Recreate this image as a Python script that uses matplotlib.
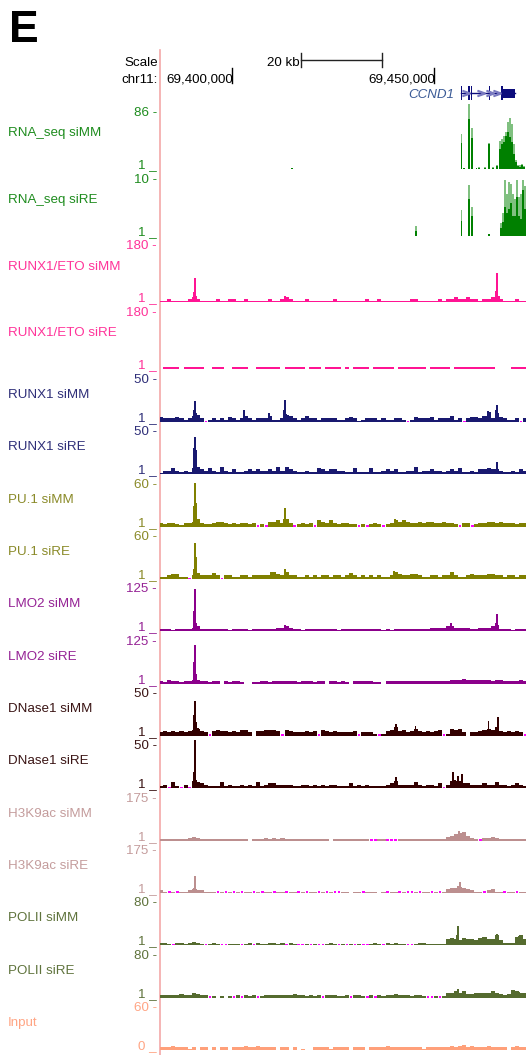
import numpy as np
import matplotlib
matplotlib.use("Agg")
import matplotlib.pyplot as plt

plt.rcParams['font.family'] = ['Liberation Sans', 'DejaVu Sans']

W, H = 526, 1055
X0 = 160                      # left edge of the data area (px)
VIEW = (69382.18, 69472.77)   # chr11 window shown, in kb
BIN_START = 69382             # first 1 kb bin of the coverage strings

# ---- ruler / gene (kb on chr11) ----
ruler_ticks = [69400, 69450]
ruler_labels = ["69,400,000", "69,450,000"]
scale_bar = (69417.1, 69437.1)
ccnd1_exons = [(69456.6, 69456.9), (69458.5, 69458.8), (69459.2, 69459.5),
               (69463.5, 69463.8), (69466.7, 69467.0)]
ccnd1_block = (69467.0, 69470.0)
ccnd1_span = (69456.6, 69470.0)
ccnd1_chevrons = [69457.8, 69461.6, 69463.9, 69465.7]

# ---- RNA-seq: position (kb), mean, max ----
rna_mm_pos = [69414.8, 69456.8, 69457.5, 69458.7, 69459.4, 69460.5, 69461.1, 69462.6,
              69463.6, 69464.6, 69465.6, 69466.3, 69466.8, 69467.3, 69467.8, 69468.3,
              69468.8, 69469.3, 69469.8, 69470.3, 69470.8, 69471.3, 69471.8, 69472.3]
rna_mm_mean = [2, 40, 1, 77, 48, 1, 1.5, 2, 38, 2, 4, 31, 38, 41, 51, 57,
               49, 41, 23, 11, 5, 3, 6, 3]
rna_mm_max = [2, 54, 1.5, 100, 63, 1.5, 3, 3, 40, 3, 6, 43, 46, 51, 57, 72,
              78, 69, 38, 14, 6, 6, 8, 5]

rna_re_pos = [69445.6, 69456.8, 69458.7, 69459.4, 69463.6, 69466.5, 69467.0, 69467.5,
              69468.0, 69468.5, 69469.0, 69469.5, 69470.0, 69470.5, 69471.0, 69471.5,
              69472.0, 69472.5]
rna_re_mean = [0.9, 2.6, 6.5, 3.5, 0.35, 1.4, 2.5, 5.2, 4.0, 4.7, 5.8, 3.5, 3.5, 7.0,
               3.5, 3.0, 8.2, 4.7]
rna_re_max = [1.75, 4.6, 9.1, 5.1, 0.35, 2.3, 4.0, 10, 7.5, 9.6, 9.3, 7.5, 6.5, 10,
              7.0, 7.5, 10, 8.8]

# ---- ChIP / DNase coverage: one char per 1 kb bin, level 0-9 in units of max/34
#      '.' = below view minimum (magenta), '-' = no data ----
eto_mm_bg = ("1121111232" "1111211221" "1211111211" "2321112111" "1112111111"
             "1211211111" "1122111112" "1223223221" "22342111211")
eto_mm_peaks = [(69390.5, 32), (69390.8, 80), (69391.2, 19), (69413.1, 19),
                (69465.3, 38), (69465.6, 96), (69466.0, 19)]
eto_re_bg = ("-1111-1111" "1--111--11" "11--111111" "-11111-111" "-1111-1-11"
             "11-11111-1" "111111-111" "11-1111111" "111----1111")
eto_re_peaks = []

runx1_mm_bg = ("4333432356" "3.23232432" "3532333522" "3653235332" "3333223431"
               "2333232233" "2.24333423" "33523.3443" "583743223.3")
runx1_mm_peaks = [(69390.5, 14), (69390.8, 25), (69391.2, 11), (69403.0, 14),
                  (69409.2, 11), (69412.8, 14), (69413.1, 26), (69413.5, 10),
                  (69463.4, 13), (69465.2, 14), (69465.6, 20)]
runx1_re_bg = ("1335323256" "4353263242" "2343433436" "3643223225" "4344332252"
               "2252234342" "2336233433" "2343522324" "45443223243")
runx1_re_peaks = [(69390.5, 31), (69390.8, 44), (69391.2, 29), (69465.6, 15)]

pu1_mm_bg = ("3233213346" "3223443232" "3323.2.445" "363.2323.5" "435323322."
             "2.232.2354" "5433434433" "4332.33.23" "34434333233")
pu1_mm_peaks = [(69390.5, 29), (69390.8, 62), (69391.2, 34), (69412.8, 11),
                (69413.1, 26), (69440.3, 11)]
pu1_re_bg = ("2234422.35" "33353.3322" "3323333364" "3633223232" "3323323532"
             "3232322364" "3344322332" "3363223433" "34433233233")
pu1_re_peaks = [(69390.5, 14), (69390.8, 51), (69391.2, 31), (69409.7, 10),
                (69413.1, 14), (69440.1, 11), (69454.2, 10)]

lmo2_mm_bg = ("2221222234" "2222222122" "2212222223" "3432212222" "2222122222"
              "2222212122" "2222222333" "3443333223" "33452221222")
lmo2_mm_peaks = [(69390.5, 60), (69390.8, 125), (69391.2, 24), (69413.1, 18),
                 (69454.2, 24), (69465.2, 24), (69465.6, 51)]
lmo2_re_bg = ("2132212233" "22122-2122" "1--1122122" "2222122212" "2-22121-22"
              "22211-2222" "2222222222" "2233343333" "33233222232")
lmo2_re_peaks = [(69390.5, 63), (69390.8, 116), (69391.2, 30)]

dnase_mm_bg = ("3434343456" "43.4544343" "553-445554" ".54333434." "543433334."
               "3332.24574" "5346434345" ".26563-334" "5657434343.")
dnase_mm_peaks = [(69390.5, 25), (69390.8, 42), (69391.2, 17), (69391.5, 10),
                  (69440.5, 14), (69445.4, 12), (69463.5, 18), (69465.4, 11),
                  (69465.8, 23)]
dnase_re_bg = ("23.52.3.65" "4322252322" "3232523443" "3332233232" "3233222423"
               "2322223463" "3335323324" ".366644333" "43353323432")
dnase_re_peaks = [(69390.5, 19), (69390.8, 57), (69391.2, 10), (69440.5, 14),
                  (69454.7, 19), (69455.1, 10), (69456.0, 15), (69457.0, 17)]

h3k9_mm_bg = ("1111111232" "1111111111" "11-1112121" "2111111111" "11-1111111"
              "11..11...1" "1111111111" "134567421." "22321111111")
h3k9_mm_peaks = [(69390.8, 12), (69455.7, 29), (69456.2, 42), (69456.7, 25)]
h3k9_re_bg = ("21.1.11232" "2111.1.1.1" ".11.1.11.1" "1.11.1.11." "1.1..11-11"
              ".111-1.11." "1..1.11.1." "1344543211" ".2311.11.11")
h3k9_re_peaks = [(69390.5, 21), (69390.8, 70), (69391.2, 17), (69455.2, 21),
                 (69455.9, 29), (69456.4, 46), (69457.0, 21)]

pol2_mm_bg = ("221.221232" "1.121..111" ".12.211221" "2.21..1.1." ".121.1.1.1"
              "..121.2121" "1..1221111" "1565465546" "75584222785")
pol2_mm_peaks = [(69455.6, 19), (69456.0, 36), (69463.0, 15), (69465.5, 21),
                 (69471.0, 17)]
pol2_re_bg = ("2222232243" "22.1-1-1.2" ".212.12222" "2223221212" ".222112.22"
              "1.2.212232" "221221..1." "1445453344" "44543236544")
pol2_re_peaks = [(69456.0, 17), (69471.0, 11)]

input_bg = ("222322212-" "22-2-22-22" "232232222-" "22-2-1--22" "2212222-22"
            "2-22223222" "2222212222" "2232342322" "232222-2322")
input_peaks = [(69456.2, 6)]

# name, max, min label, coverage, peaks, bar colour, label colour
chip_tracks = [
    ("RUNX1/ETO siMM", 180, "1", eto_mm_bg, eto_mm_peaks, "#ff1493", "#ff3399"),
    ("RUNX1/ETO siRE", 180, "1", eto_re_bg, eto_re_peaks, "#ff1493", "#ff3399"),
    ("RUNX1 siMM", 50, "1", runx1_mm_bg, runx1_mm_peaks, "#191970", "#2e2e78"),
    ("RUNX1 siRE", 50, "1", runx1_re_bg, runx1_re_peaks, "#191970", "#2e2e78"),
    ("PU.1 siMM", 60, "1", pu1_mm_bg, pu1_mm_peaks, "#808000", "#8a8a28"),
    ("PU.1 siRE", 60, "1", pu1_re_bg, pu1_re_peaks, "#808000", "#8a8a28"),
    ("LMO2 siMM", 125, "1", lmo2_mm_bg, lmo2_mm_peaks, "#8b008b", "#952295"),
    ("LMO2 siRE", 125, "1", lmo2_re_bg, lmo2_re_peaks, "#8b008b", "#952295"),
    ("DNase1 siMM", 50, "1", dnase_mm_bg, dnase_mm_peaks, "#330000", "#3a1414"),
    ("DNase1 siRE", 50, "1", dnase_re_bg, dnase_re_peaks, "#330000", "#3a1414"),
    ("H3K9ac siMM", 175, "1", h3k9_mm_bg, h3k9_mm_peaks, "#bc8f8f", "#c49c9c"),
    ("H3K9ac siRE", 175, "1", h3k9_re_bg, h3k9_re_peaks, "#bc8f8f", "#c49c9c"),
    ("POLII siMM", 80, "1", pol2_mm_bg, pol2_mm_peaks, "#556b2f", "#5f733c"),
    ("POLII siRE", 80, "1", pol2_re_bg, pol2_re_peaks, "#556b2f", "#5f733c"),
    ("Input", 60, "0", input_bg, input_peaks, "#ffa07a", "#ffa584"),
]
rna_tracks = [
    ("RNA_seq siMM", 86, rna_mm_pos, rna_mm_mean, rna_mm_max),
    ("RNA_seq siRE", 10, rna_re_pos, rna_re_mean, rna_re_max),
]

FS = 9.6
fig = plt.figure(figsize=(W / 100, H / 100), dpi=100)


def fx(x):
    return x / W


def fy(y):
    return 1 - y / H


def track_axes(top, bottom, vmax):
    ax = fig.add_axes([fx(X0), fy(bottom), (W - X0) / W, (bottom - top) / H])
    ax.set_xlim(*VIEW)
    ax.set_ylim(0, vmax)
    ax.axis("off")
    return ax


def track_text(top, bottom, name, vmax, vmin, color):
    fig.text(fx(8), fy(top + 0.36 * (bottom - top)), name, color=color,
             fontsize=FS, va="center", ha="left")
    fig.text(fx(157), fy(top), "%s -" % vmax, color=color, fontsize=FS,
             va="center", ha="right")
    fig.text(fx(157), fy(bottom - 1), "%s _" % vmin, color=color, fontsize=FS,
             va="baseline", ha="right")


# header axes: same x scale as the tracks, y in pixels
ax0 = fig.add_axes([fx(X0), 0, (W - X0) / W, 1])
ax0.set_xlim(*VIEW)
ax0.set_ylim(H, 0)
ax0.axis("off")
ax0.plot([VIEW[0], VIEW[0]], [50, H], color="#f4a8a8", lw=1.2, clip_on=False)

fig.text(fx(9), fy(42), "E", fontsize=32, fontweight="bold", va="baseline")
fig.text(fx(158), fy(66), "Scale", fontsize=FS, ha="right", va="baseline")
fig.text(fx(158), fy(83), "chr11:", fontsize=FS, ha="right", va="baseline")

ax0.plot(scale_bar, [60, 60], color="#222222", lw=1)
for xb in scale_bar:
    ax0.plot([xb, xb], [53, 67], color="#222222", lw=1)
ax0.text(scale_bar[0] - 0.4, 66, "20 kb", fontsize=FS, ha="right", va="baseline")
for xt, lab in zip(ruler_ticks, ruler_labels):
    ax0.plot([xt, xt], [68, 83], color="black", lw=1)
    ax0.text(xt + 0.3, 83, lab, fontsize=FS, ha="right", va="baseline")

gene_col = "#0c0c7c"
ax0.plot(ccnd1_span, [93, 93], color=gene_col, lw=1)
for s, e in ccnd1_exons:
    ax0.fill_between([s, e], 86, 100, color=gene_col, lw=0)
ax0.fill_between(ccnd1_block, 88.5, 97.5, color=gene_col, lw=0)
ax0.plot(ccnd1_chevrons, [93] * len(ccnd1_chevrons), ls="none", marker="$>$",
         ms=5, color="#7a7ac0")
ax0.text(69454.9, 98, "CCND1", fontsize=FS, style="italic", color="#3a5a96",
         ha="right", va="baseline")

tops = [113 + 66.7 * i for i in range(4)] + [380 + 52.33 * i for i in range(13)]
heights = [56] * 4 + [42] * 13

# RNA-seq tracks: max in light green behind the mean
for i, (name, vmax, pos, mean, mx) in enumerate(rna_tracks):
    top, bottom = tops[i], tops[i] + heights[i]
    ax = track_axes(top, bottom, vmax)
    ax.bar(pos, mx, width=0.45, color="#80c080", linewidth=0, clip_on=False)
    ax.bar(pos, mean, width=0.45, color="#008000", linewidth=0, clip_on=False)
    track_text(top, bottom, name, vmax, "1", "#1e8c1e")

for j, (name, vmax, vmin, bg, peaks, color, lcolor) in enumerate(chip_tracks):
    i = j + 2
    top, bottom = tops[i], tops[i] + heights[i]
    ax = track_axes(top, bottom, vmax)
    unit = vmax / 34.0
    xs = BIN_START + np.arange(len(bg))
    hs = np.array([int(c) * unit if c.isdigit() else 0.0 for c in bg])
    ax.bar(xs, hs, width=1.0, align="edge", color=color, linewidth=0)
    low = [BIN_START + k + 0.2 for k, c in enumerate(bg) if c == "."]
    ax.bar(low, [1.2 * unit] * len(low), width=0.6, align="edge",
           color="#ff00ff", linewidth=0)
    if peaks:
        px, pv = zip(*peaks)
        ax.bar(px, pv, width=0.45, color=color, linewidth=0, clip_on=False)
    track_text(top, bottom, name, vmax, vmin, lcolor)

fig.savefig("out.png", dpi=100)
